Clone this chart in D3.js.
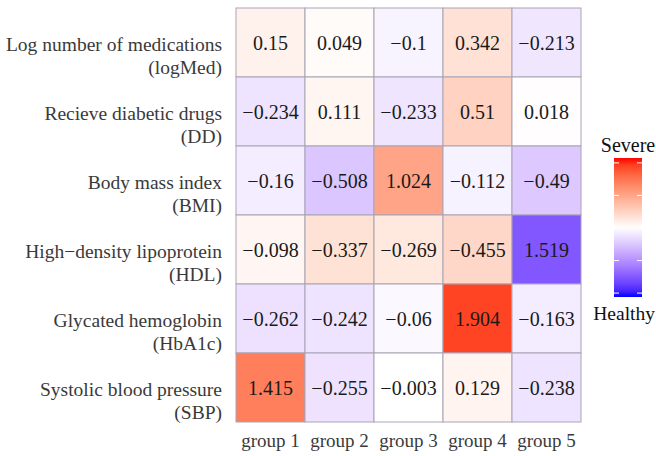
<!DOCTYPE html>
<html>
<head>
<meta charset="utf-8">
<script src="https://cdn.jsdelivr.net/npm/d3@7"></script>
<style>
  body { margin: 0; background: #fff; }
  svg text { font-family: "Liberation Serif", "DejaVu Serif", serif; }
</style>
</head>
<body>
<div id="chart"></div>
<script>
// heatmap of standardized group means, colour = severity (HDL is reversed: high = healthy)
const groups = ["group 1", "group 2", "group 3", "group 4", "group 5"];
const rowNames = ["Log number of medications", "Recieve diabetic drugs", "Body mass index",
                  "High\u2212density lipoprotein", "Glycated hemoglobin", "Systolic blood pressure"];
const rowCodes = ["(logMed)", "(DD)", "(BMI)", "(HDL)", "(HbA1c)", "(SBP)"];
// +1 : higher value is more severe, -1 : higher value is healthier
const direction = [1, 1, 1, -1, 1, 1];
const values = [
  [0.15, 0.049, -0.1, 0.342, -0.213],
  [-0.234, 0.111, -0.233, 0.51, 0.018],
  [-0.16, -0.508, 1.024, -0.112, -0.49],
  [-0.098, -0.337, -0.269, -0.455, 1.519],
  [-0.262, -0.242, -0.06, 1.904, -0.163],
  [1.415, -0.255, -0.003, 0.129, -0.238]
];
const legendTicks = [-2, -1, 0, 1, 2];
const legendMin = -2.12, legendMax = 2.15;

const W = 656, H = 456;
const grid = { left: 236, top: 8, right: 581, bottom: 422 };

const svg = d3.select("#chart").append("svg")
  .attr("width", W).attr("height", H);

const x = d3.scaleBand().domain(groups).range([grid.left, grid.right]);
const y = d3.scaleBand().domain(rowNames).range([grid.top, grid.bottom]);

const color = d3.scaleLinear()
  .domain([legendMin, 0, legendMax])
  .range(["#0000ff", "#ffffff", "#ff0000"])
  .interpolate(d3.interpolateLab)
  .clamp(true);

const fmt = v => (v < 0 ? "\u2212" : "") + String(Math.abs(v));

const cells = [];
values.forEach((row, i) => row.forEach((v, j) => {
  cells.push({ row: rowNames[i], group: groups[j], value: v, sev: v * direction[i] });
}));

svg.append("g").selectAll("rect")
  .data(cells)
  .enter().append("rect")
  .attr("x", d => x(d.group))
  .attr("y", d => y(d.row))
  .attr("width", x.bandwidth())
  .attr("height", y.bandwidth())
  .attr("fill", d => color(d.sev))
  .attr("stroke", "#a8a4b4")
  .attr("stroke-width", 1);

svg.append("g").selectAll("text")
  .data(cells)
  .enter().append("text")
  .attr("x", d => x(d.group) + x.bandwidth() / 2)
  .attr("y", d => y(d.row) + y.bandwidth() / 2)
  .attr("dy", "0.35em")
  .attr("text-anchor", "middle")
  .style("font-size", "20px")
  .style("fill", "#1a1a1a")
  .text(d => fmt(d.value));

// row labels (two lines)
const rl = svg.append("g").selectAll("g")
  .data(rowNames)
  .enter().append("g");
rl.append("text")
  .attr("x", 222)
  .attr("y", d => y(d) + y.bandwidth() / 2 + 2)
  .attr("dy", "0.35em")
  .attr("text-anchor", "end")
  .style("font-size", "19.5px")
  .style("fill", "#3a3a3a")
  .text(d => d);
rl.append("text")
  .attr("x", 222)
  .attr("y", d => y(d) + y.bandwidth() / 2 + 25)
  .attr("dy", "0.35em")
  .attr("text-anchor", "end")
  .style("font-size", "19.5px")
  .style("fill", "#3a3a3a")
  .text((d, i) => rowCodes[i]);

// group labels
svg.append("g").selectAll("text")
  .data(groups)
  .enter().append("text")
  .attr("x", d => x(d) + x.bandwidth() / 2)
  .attr("y", 440)
  .attr("dy", "0.35em")
  .attr("text-anchor", "middle")
  .style("font-size", "19px")
  .style("fill", "#3a3a3a")
  .text(d => d);

// colour bar legend
const lg = { x: 614, w: 28, top: 158, bottom: 297 };
const ly = d3.scaleLinear().domain([legendMin, legendMax]).range([lg.bottom, lg.top]);

const defs = svg.append("defs");
const grad = defs.append("linearGradient")
  .attr("id", "sevgrad")
  .attr("x1", 0).attr("y1", 1).attr("x2", 0).attr("y2", 0);
d3.range(0, 1.0001, 0.05).forEach(t => {
  const v = legendMin + t * (legendMax - legendMin);
  grad.append("stop").attr("offset", t).attr("stop-color", color(v));
});

svg.append("rect")
  .attr("x", lg.x).attr("y", lg.top)
  .attr("width", lg.w).attr("height", lg.bottom - lg.top)
  .attr("fill", "url(#sevgrad)");

const tk = svg.append("g").selectAll("g")
  .data(legendTicks)
  .enter().append("g");
tk.append("line")
  .attr("x1", lg.x).attr("x2", lg.x + 5)
  .attr("y1", d => ly(d)).attr("y2", d => ly(d))
  .attr("stroke", "#fff").attr("stroke-width", 1);
tk.append("line")
  .attr("x1", lg.x + lg.w - 5).attr("x2", lg.x + lg.w)
  .attr("y1", d => ly(d)).attr("y2", d => ly(d))
  .attr("stroke", "#fff").attr("stroke-width", 1);

svg.append("text")
  .attr("x", lg.x + lg.w / 2).attr("y", 145)
  .attr("dy", "0.35em")
  .attr("text-anchor", "middle")
  .style("font-size", "20px")
  .style("fill", "#111")
  .text("Severe");
svg.append("text")
  .attr("x", 655).attr("y", 313)
  .attr("dy", "0.35em")
  .attr("text-anchor", "end")
  .style("font-size", "19.5px")
  .style("fill", "#111")
  .text("Healthy");
</script>
</body>
</html>
